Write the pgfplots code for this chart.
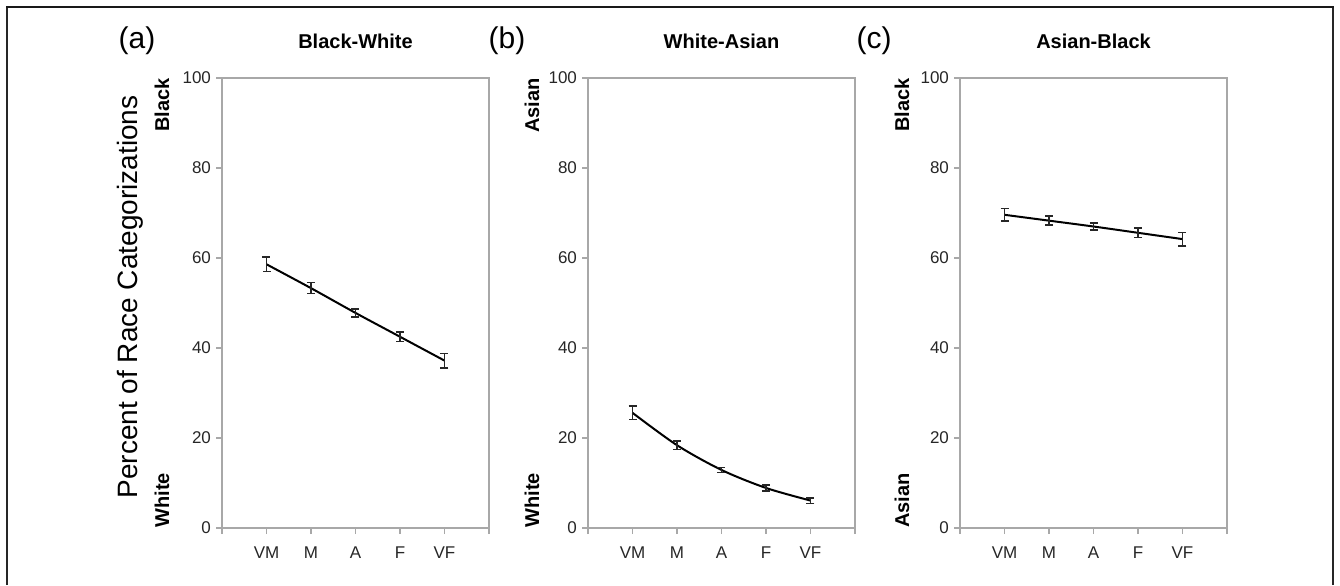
\documentclass[border=0pt]{standalone}
\usepackage{fontspec}
\setmainfont{Liberation Sans}
\usepackage{pgfplots}
\usepackage{pgfplotstable}
\pgfplotsset{compat=1.18}

\definecolor{axgray}{HTML}{A8A8A8}

\pgfplotstableread{
x y e
1 58.6 1.6
2 53.3 1.2
3 47.8 0.9
4 42.5 1.1
5 37.2 1.6
}\dataa
\pgfplotstableread{
x y e
1 25.6 1.5
2 18.4 0.9
3 12.9 0.6
4 8.9 0.7
5 6.1 0.6
}\datab
\pgfplotstableread{
x y e
1 69.6 1.4
2 68.3 1.0
3 67.0 0.8
4 65.6 1.1
5 64.2 1.5
}\datac

\pgfplotsset{
  panel/.style={
    scale only axis, width=133.5pt, height=225pt,
    xmin=0, xmax=6, ymin=0, ymax=100,
    xtick={0,...,6}, xticklabels={,VM,M,A,F,VF,},
    ytick={0,20,...,100},
    axis line style={axgray, line width=0.6pt},
    tick style={axgray, line width=0.6pt},
    tick align=outside,
    tick pos=left,
    major tick length=3pt,
    ticklabel style={font=\fontsize{8.5}{9}\selectfont, text=black!85},
    /pgf/number format/assume math mode=true,
    yticklabel style={xshift=1pt},
    xticklabel style={yshift=-3pt},
    anchor=south west,
    clip=false,
  },
  dataline/.style={black, line width=1pt, smooth, mark=none,
    error bars/.cd, y dir=both, y explicit,
    error bar style={line width=0.7pt, black!85},
    error mark options={rotate=90, mark size=2pt, line width=0.7pt, black!85}},
}

\begin{document}
\begin{tikzpicture}
\useasboundingbox (0,0) rectangle (670pt,292.5pt);
\draw[line width=0.6pt, black!85] (3.5pt,0) -- (3.5pt,289pt);
\draw[line width=0.6pt, black!85] (666.5pt,0) -- (666.5pt,289pt);
\draw[line width=1.1pt, black!90] (3.2pt,289pt) -- (666.8pt,289pt);

\begin{axis}[panel, at={(111pt,28.5pt)}]
\addplot[dataline] table[x=x, y=y, y error=e] {\dataa};
\end{axis}
\begin{axis}[panel, at={(294pt,28.5pt)}]
\addplot[dataline] table[x=x, y=y, y error=e] {\datab};
\end{axis}
\begin{axis}[panel, at={(480pt,28.5pt)}]
\addplot[dataline] table[x=x, y=y, y error=e] {\datac};
\end{axis}

% titles
\node[font=\fontsize{10}{12}\selectfont\bfseries] at (177.75pt,272pt) {Black-White};
\node[font=\fontsize{10}{12}\selectfont\bfseries] at (360.75pt,272pt) {White-Asian};
\node[font=\fontsize{10}{12}\selectfont\bfseries] at (546.75pt,272pt) {Asian-Black};

% panel letters
\node[font=\fontsize{15}{18}\selectfont] at (68.5pt,272pt) {(a)};
\node[font=\fontsize{15}{18}\selectfont] at (253.5pt,272pt) {(b)};
\node[font=\fontsize{15}{18}\selectfont] at (437pt,272pt) {(c)};

% y label
\node[font=\fontsize{14}{16}\selectfont, rotate=90] at (65pt,144pt) {Percent of Race Categorizations};

% end labels
\node[font=\fontsize{10}{11}\selectfont\bfseries, rotate=90, anchor=east, inner sep=0pt] at (81pt,253.5pt) {Black};
\node[font=\fontsize{10}{11}\selectfont\bfseries, rotate=90, anchor=west, inner sep=0pt] at (81pt,28.5pt) {White};
\node[font=\fontsize{10}{11}\selectfont\bfseries, rotate=90, anchor=east, inner sep=0pt] at (266pt,253.5pt) {Asian};
\node[font=\fontsize{10}{11}\selectfont\bfseries, rotate=90, anchor=west, inner sep=0pt] at (266pt,28.5pt) {White};
\node[font=\fontsize{10}{11}\selectfont\bfseries, rotate=90, anchor=east, inner sep=0pt] at (451pt,253.5pt) {Black};
\node[font=\fontsize{10}{11}\selectfont\bfseries, rotate=90, anchor=west, inner sep=0pt] at (451pt,28.5pt) {Asian};
\end{tikzpicture}
\end{document}
